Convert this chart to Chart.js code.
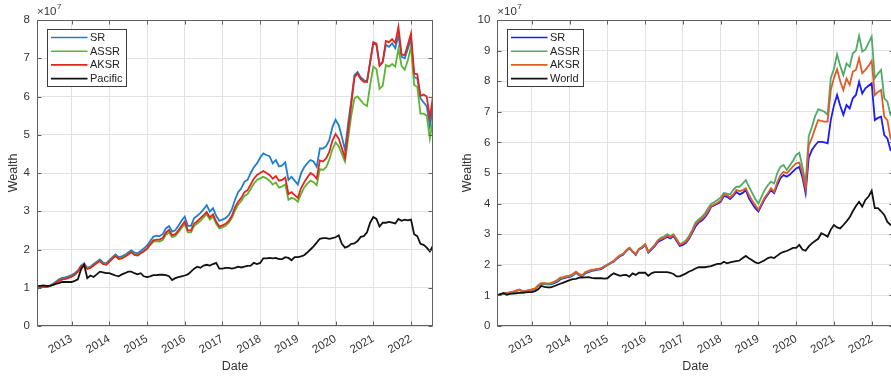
<!DOCTYPE html>
<html><head><meta charset="utf-8">
<script src="https://cdn.jsdelivr.net/npm/chart.js@4.4.1/dist/chart.umd.min.js"></script>
<style>
html,body{margin:0;padding:0;background:#fff;overflow:hidden;width:891px;height:377px;position:relative;}
#w1{position:absolute;left:0;top:0;width:445px;height:377px;}
#w2{position:absolute;left:450px;top:0;width:456px;height:377px;}
</style></head><body>
<div id="w1"><canvas id="c1"></canvas></div>
<div id="w2"><canvas id="c2"></canvas></div>
<script>
// ---- categories: monthly dates 2012-02 .. 2022-08 ----
const firstMonth = [2012, 2];
const monthCount = 127;
const months = [];
for (let i = 0; i < monthCount; i++) {
  const m0 = firstMonth[1] - 1 + i;
  const yr = firstMonth[0] + Math.floor(m0 / 12), mo = (m0 % 12) + 1;
  months.push(yr + '-' + String(mo).padStart(2, '0'));
}
const yearTicks = [2013, 2014, 2015, 2016, 2017, 2018, 2019, 2020, 2021, 2022];
const leftYTicks = [0, 1, 2, 3, 4, 5, 6, 7, 8];
const rightYTicks = [0, 1, 2, 3, 4, 5, 6, 7, 8, 9, 10];
const exponentLabel = '7';

// ---- left panel (Pacific), wealth in units of 1e7 ----
const leftNames = ['SR', 'ASSR', 'AKSR', 'Pacific'];
const leftSR = [
 0.99,1.02,1.04,1.03,1.05,1.10,1.16,1.22,1.26,1.27,1.30,
 1.33,1.38,1.45,1.58,1.64,1.52,1.55,1.62,1.68,1.74,1.66,1.64,
 1.72,1.80,1.87,1.80,1.82,1.86,1.92,1.98,1.92,1.90,1.96,2.03,
 2.10,2.22,2.33,2.36,2.35,2.40,2.55,2.61,2.47,2.50,2.62,2.75,
 2.86,2.62,2.62,2.82,2.88,2.96,3.05,3.16,2.99,3.08,2.88,2.75,
 2.78,2.82,2.90,3.05,3.30,3.50,3.60,3.77,3.82,4.00,4.15,4.25,
 4.40,4.51,4.47,4.44,4.25,4.34,4.17,4.20,4.28,3.82,3.90,3.80,
 3.70,3.99,4.15,4.25,4.34,4.30,4.16,4.64,4.64,4.70,4.86,5.20,
 5.39,5.25,4.95,4.60,5.30,5.90,6.56,6.64,6.50,6.43,6.39,6.90,
 7.39,7.35,6.82,6.91,7.35,7.30,7.39,7.26,7.60,7.04,7.00,7.25,
 7.50,6.50,6.48,5.95,5.85,5.75,5.21,5.75];
const leftASSR = [
 0.98,1.01,1.03,1.02,1.04,1.08,1.13,1.18,1.22,1.23,1.26,
 1.29,1.34,1.42,1.55,1.61,1.50,1.53,1.59,1.65,1.71,1.63,1.61,
 1.69,1.77,1.84,1.76,1.78,1.82,1.88,1.94,1.87,1.85,1.90,1.95,
 2.01,2.11,2.20,2.22,2.21,2.25,2.38,2.45,2.32,2.35,2.45,2.56,
 2.67,2.45,2.45,2.62,2.68,2.75,2.84,2.92,2.78,2.86,2.67,2.55,
 2.58,2.62,2.70,2.82,3.02,3.17,3.27,3.40,3.45,3.58,3.72,3.82,
 3.86,3.90,3.86,3.80,3.70,3.75,3.62,3.65,3.70,3.30,3.35,3.32,
 3.25,3.45,3.62,3.72,3.80,3.76,3.68,4.10,4.08,4.15,4.35,4.62,
 4.80,4.70,4.50,4.30,4.90,5.50,5.95,6.00,5.90,5.80,5.75,6.30,
 6.78,6.72,6.20,6.28,6.82,6.78,6.85,6.78,7.25,6.80,6.70,6.95,
 7.30,6.30,6.25,5.55,5.55,5.50,4.90,5.40];
const leftAKSR = [
 0.97,1.00,1.03,1.02,1.04,1.08,1.13,1.18,1.22,1.23,1.26,
 1.29,1.34,1.42,1.55,1.61,1.49,1.52,1.58,1.64,1.70,1.62,1.60,
 1.68,1.76,1.83,1.75,1.77,1.81,1.87,1.93,1.86,1.84,1.90,1.96,
 2.03,2.14,2.24,2.26,2.26,2.30,2.44,2.51,2.37,2.40,2.50,2.62,
 2.73,2.50,2.50,2.68,2.74,2.82,2.90,2.98,2.84,2.92,2.73,2.60,
 2.63,2.67,2.75,2.88,3.10,3.25,3.35,3.50,3.55,3.70,3.85,3.95,
 4.00,4.05,4.00,3.95,3.85,3.92,3.80,3.82,3.88,3.45,3.50,3.42,
 3.35,3.60,3.75,3.88,4.00,3.95,3.85,4.33,4.30,4.38,4.55,4.85,
 5.02,4.90,4.65,4.40,5.10,5.80,6.50,6.60,6.45,6.38,6.38,6.90,
 7.42,7.38,6.80,6.90,7.45,7.42,7.50,7.40,7.82,7.10,7.08,7.35,
 7.65,6.60,6.58,6.02,6.05,6.00,5.45,6.00];
const leftPacific = [
 1.04,1.05,1.06,1.05,1.05,1.07,1.10,1.12,1.15,1.15,1.15,
 1.15,1.18,1.22,1.48,1.60,1.25,1.32,1.28,1.35,1.42,1.40,1.38,
 1.38,1.35,1.32,1.30,1.35,1.38,1.42,1.42,1.38,1.35,1.38,1.30,
 1.28,1.30,1.33,1.33,1.34,1.34,1.33,1.30,1.20,1.25,1.28,1.30,
 1.32,1.35,1.42,1.50,1.55,1.52,1.58,1.60,1.58,1.62,1.65,1.50,
 1.50,1.52,1.52,1.50,1.52,1.55,1.53,1.55,1.57,1.58,1.65,1.62,
 1.65,1.77,1.77,1.78,1.77,1.78,1.75,1.75,1.80,1.78,1.72,1.80,
 1.80,1.82,1.85,1.92,2.00,2.08,2.18,2.28,2.30,2.30,2.28,2.30,
 2.32,2.37,2.15,2.05,2.08,2.15,2.16,2.22,2.33,2.35,2.45,2.70,
 2.85,2.80,2.60,2.70,2.70,2.72,2.70,2.68,2.80,2.75,2.78,2.76,
 2.78,2.40,2.35,2.15,2.12,2.05,1.95,2.10];

// ---- right panel (World), wealth in units of 1e7 ----
const rightNames = ['SR', 'ASSR', 'AKSR', 'World'];
const rightSR = [
 1.00,1.03,1.05,1.07,1.09,1.11,1.15,1.18,1.13,1.14,1.16,
 1.18,1.20,1.30,1.37,1.37,1.36,1.36,1.40,1.44,1.52,1.56,1.59,
 1.60,1.65,1.74,1.66,1.62,1.72,1.76,1.80,1.82,1.84,1.86,1.92,
 1.99,2.05,2.10,2.20,2.28,2.33,2.45,2.54,2.43,2.32,2.50,2.55,
 2.65,2.40,2.50,2.60,2.74,2.80,2.85,2.92,2.86,2.94,2.78,2.62,
 2.65,2.72,2.86,3.05,3.25,3.38,3.45,3.55,3.70,3.90,3.95,4.00,
 4.06,4.25,4.22,4.15,4.25,4.38,4.30,4.35,4.44,4.17,4.00,3.85,
 3.74,3.95,4.15,4.30,4.44,4.34,4.60,4.83,4.93,4.88,4.95,5.05,
 5.15,5.20,4.85,4.34,5.50,5.75,5.90,6.02,6.02,6.00,5.97,6.73,
 7.20,7.55,7.20,6.90,7.22,7.11,7.44,7.55,7.98,7.60,7.77,7.85,
 7.93,6.73,6.80,6.84,6.24,6.13,5.75,5.70];
const rightASSR = [
 1.00,1.03,1.05,1.07,1.09,1.11,1.15,1.18,1.13,1.14,1.16,
 1.19,1.21,1.31,1.38,1.38,1.37,1.38,1.42,1.47,1.55,1.58,1.61,
 1.62,1.67,1.76,1.68,1.64,1.74,1.78,1.82,1.84,1.86,1.88,1.94,
 2.00,2.06,2.12,2.22,2.30,2.35,2.47,2.55,2.44,2.34,2.51,2.57,
 2.67,2.43,2.54,2.65,2.80,2.88,2.92,3.00,2.93,3.00,2.84,2.68,
 2.72,2.80,2.95,3.15,3.38,3.48,3.56,3.68,3.85,4.00,4.05,4.12,
 4.20,4.35,4.33,4.30,4.45,4.55,4.55,4.65,4.77,4.55,4.35,4.15,
 4.00,4.23,4.45,4.60,4.72,4.66,5.00,5.20,5.26,5.10,5.25,5.40,
 5.59,5.66,5.20,4.66,6.20,6.50,6.85,7.08,7.05,7.00,6.90,8.10,
 8.40,8.88,8.50,8.20,8.58,8.47,8.91,9.00,9.48,8.97,9.04,9.25,
 9.46,8.10,8.25,8.37,7.44,7.33,6.90,6.85];
const rightAKSR = [
 1.00,1.03,1.06,1.08,1.10,1.12,1.16,1.19,1.14,1.15,1.17,
 1.20,1.23,1.33,1.40,1.40,1.39,1.40,1.44,1.50,1.58,1.60,1.63,
 1.65,1.70,1.78,1.70,1.66,1.76,1.80,1.84,1.85,1.87,1.89,1.95,
 2.01,2.07,2.13,2.23,2.31,2.36,2.48,2.56,2.45,2.35,2.52,2.58,
 2.67,2.43,2.53,2.63,2.78,2.84,2.88,2.96,2.90,2.98,2.82,2.66,
 2.70,2.76,2.90,3.10,3.32,3.43,3.50,3.60,3.76,3.92,3.97,4.03,
 4.10,4.30,4.28,4.20,4.30,4.45,4.40,4.44,4.50,4.28,4.10,3.95,
 3.80,4.00,4.20,4.34,4.50,4.39,4.70,4.93,5.04,4.99,5.10,5.22,
 5.32,5.34,5.00,4.50,5.90,6.15,6.45,6.73,6.70,6.68,6.68,7.71,
 8.10,8.39,8.00,7.71,8.09,7.88,8.31,8.37,8.75,8.26,8.37,8.50,
 8.67,7.55,7.65,7.71,6.84,6.73,6.13,6.02];
const rightWorld = [
 1.00,1.04,1.08,1.02,1.05,1.06,1.07,1.08,1.08,1.10,1.11,
 1.11,1.14,1.20,1.31,1.28,1.26,1.26,1.30,1.34,1.38,1.42,1.46,
 1.50,1.53,1.54,1.58,1.58,1.59,1.60,1.57,1.56,1.56,1.56,1.55,
 1.56,1.65,1.72,1.68,1.64,1.66,1.67,1.61,1.72,1.67,1.74,1.74,
 1.74,1.64,1.72,1.76,1.76,1.76,1.76,1.76,1.74,1.70,1.62,1.62,
 1.67,1.72,1.78,1.82,1.88,1.92,1.92,1.92,1.94,1.96,2.00,2.03,
 2.03,2.10,2.05,2.08,2.10,2.12,2.14,2.22,2.29,2.21,2.15,2.08,
 2.05,2.10,2.15,2.22,2.25,2.22,2.30,2.38,2.42,2.45,2.50,2.55,
 2.55,2.65,2.50,2.46,2.60,2.70,2.78,2.85,3.03,2.98,2.92,3.15,
 3.30,3.22,3.19,3.30,3.42,3.55,3.75,3.92,4.06,3.90,4.12,4.23,
 4.42,3.85,3.85,3.75,3.63,3.40,3.30,3.28];

const leftColors = ['#1f7fc9', '#5cb531', '#e5231f', '#111111'];
const rightColors = ['#1c1cf5', '#4fab68', '#df5b27', '#111111'];

const FONT = '"Liberation Sans", Arial, Helvetica, sans-serif';
const TXT = '#333333';
const xs = months.map(s => { const [y, m] = s.split('-').map(Number); return y + (m - 1) / 12; });

function toPoints(vals) { return vals.map((v, i) => ({x: xs[i], y: v})); }

const decor = {
  id: 'decor',
  afterDraw(chart) {
    const {ctx, chartArea: a, scales: {x, y}} = chart;
    const L = Math.round(a.left) + 0.5, R = Math.round(a.right) - 0.5;
    const T = Math.round(a.top) + 0.5, B = Math.round(a.bottom) - 0.5;
    ctx.save();
    ctx.strokeStyle = '#606060'; ctx.lineWidth = 1;
    ctx.strokeRect(L, T, R - L, B - T);
    ctx.beginPath();
    x.ticks.forEach(t => {
      const px = Math.round(x.getPixelForValue(t.value)) + 0.5;
      ctx.moveTo(px, B); ctx.lineTo(px, B - 4);
      ctx.moveTo(px, T); ctx.lineTo(px, T + 4);
    });
    y.ticks.forEach(t => {
      const py = Math.round(y.getPixelForValue(t.value)) + 0.5;
      ctx.moveTo(L, py); ctx.lineTo(L + 4, py);
      ctx.moveTo(R, py); ctx.lineTo(R - 4, py);
    });
    ctx.stroke();
    // exponent label
    ctx.fillStyle = TXT; ctx.textAlign = 'left'; ctx.textBaseline = 'alphabetic';
    ctx.font = '11.5px ' + FONT;
    ctx.fillText('\u00d710', a.left, a.top - 5);
    const w = ctx.measureText('\u00d710').width;
    ctx.font = '8px ' + FONT;
    ctx.fillText(exponentLabel, a.left + w + 0.5, a.top - 11);
    // legend box
    const ds = chart.data.datasets;
    ctx.font = '11px ' + FONT;
    const textW = Math.max(...ds.map(d => ctx.measureText(d.label).width));
    const bx = Math.round(a.left + 9.5) + 0.5, by = Math.round(a.top + 9) + 0.5;
    const rowH = 13.7;
    const bw = Math.round(42.5 + textW + 4), bh = Math.round(ds.length * rowH + 2.5);
    ctx.fillStyle = '#ffffff'; ctx.fillRect(bx, by, bw, bh);
    ctx.strokeStyle = '#3c3c3c'; ctx.lineWidth = 1; ctx.strokeRect(bx, by, bw, bh);
    ds.forEach((d, i) => {
      const cy = by + 8 + i * rowH;
      ctx.strokeStyle = d.borderColor; ctx.lineWidth = 1.6;
      ctx.beginPath(); ctx.moveTo(bx + 3.5, cy); ctx.lineTo(bx + 40, cy); ctx.stroke();
      ctx.fillStyle = '#222'; ctx.textBaseline = 'middle'; ctx.textAlign = 'left';
      ctx.fillText(d.label, bx + 42.5, cy + 0.5);
    });
    ctx.restore();
  }
};

function makeChart(id, names, series, colors, ymax, yTicks, yWidth, padRight, titlePad) {
  return new Chart(document.getElementById(id), {
    type: 'line',
    data: {
      datasets: series.map((vals, i) => ({
        label: names[i], data: toPoints(vals), borderColor: colors[i], backgroundColor: colors[i],
        borderWidth: 1.8, pointRadius: 0, tension: 0, fill: false, order: series.length - i
      }))
    },
    options: {
      responsive: true, maintainAspectRatio: false, animation: false,
      layout: {padding: {top: 20, right: padRight, left: 0, bottom: 0}},
      plugins: {legend: {display: false}, tooltip: {enabled: false}},
      scales: {
        x: {
          type: 'linear', min: xs[0], max: xs[xs.length - 1],
          afterBuildTicks: s => { s.ticks = yearTicks.map(v => ({value: v})); },
          afterFit: s => { s.height = 51; },
          ticks: {autoSkip: false, minRotation: 30, maxRotation: 30, padding: 6, color: TXT,
                  font: {family: FONT, size: 11.5}, callback: v => String(v)},
          grid: {color: '#e2e2e2', drawTicks: false, lineWidth: 1},
          border: {display: false},
          title: {display: true, text: 'Date', color: TXT, font: {family: FONT, size: 12.5},
                  padding: {top: 0, bottom: 3}}
        },
        y: {
          min: 0, max: ymax,
          afterBuildTicks: s => { s.ticks = yTicks.map(v => ({value: v})); },
          afterFit: s => { s.width = yWidth; },
          ticks: {padding: 7, color: TXT, font: {family: FONT, size: 11.5}, callback: v => String(v)},
          grid: {color: '#e2e2e2', drawTicks: false, lineWidth: 1},
          border: {display: false},
          title: {display: true, text: 'Wealth', color: TXT, font: {family: FONT, size: 12.5},
                  padding: {top: titlePad, bottom: 0}}
        }
      }
    },
    plugins: [decor]
  });
}

makeChart('c1', leftNames, [leftSR, leftASSR, leftAKSR, leftPacific], leftColors, 8, leftYTicks, 37, 12, 6.4);
makeChart('c2', rightNames, [rightSR, rightASSR, rightAKSR, rightWorld], rightColors, 10, rightYTicks, 47.3, 12.3, 10.4);
</script>
</body></html>
